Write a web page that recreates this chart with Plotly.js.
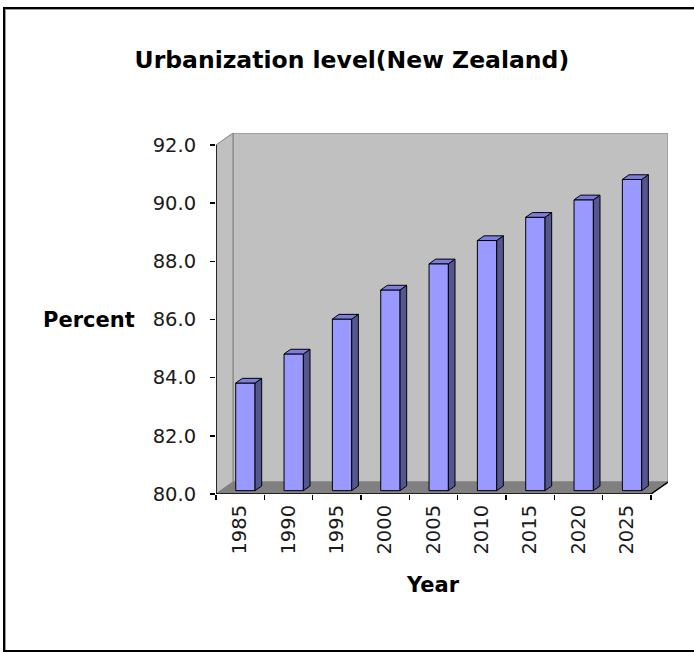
<!DOCTYPE html>
<html>
<head>
<meta charset="utf-8">
<script src="https://cdn.plot.ly/plotly-3.0.1.min.js"></script>
<style>
  html, body { margin: 0; padding: 0; background: #ffffff; overflow: hidden; }
  #chart { position: absolute; left: 0; top: 0; width: 694px; height: 652px; }
  #frame { position: absolute; left: 3px; top: 7px; width: 700px; height: 641px;
           border: 2px solid #000; box-shadow: inset 1px 1px 0 #9a9a9a; pointer-events: none; }
</style>
</head>
<body>
<div id="chart"></div>
<div id="frame"></div>
<script>
// ---- data ----
const years = ['1985', '1990', '1995', '2000', '2005', '2010', '2015', '2020', '2025'];
const urbanPercent = [83.7, 84.7, 85.9, 86.9, 87.8, 88.6, 89.4, 90.0, 90.7];
const yTickValues = [80, 82, 84, 86, 88, 90, 92];
const chartTitle = 'Urbanization level(New Zealand)';
const yTitle = 'Percent';
const xTitle = 'Year';

// ---- 3D look (styling / geometry) ----
const Y_MIN = 80, Y_MAX = 92;
const DX = 0.352;   // depth offset in category units
const DY = 0.4126;  // depth offset in value units
const F = 0.28;     // bar front depth fraction
const D = 0.39;     // bar depth fraction
const OFF = -0.092; // front face left edge relative to category centre
const W = 0.40;     // front face width
const n = years.length;

const baseFront = Y_MIN + F * DY;
const sideX = [], sideY = [], topX = [], topY = [];
urbanPercent.forEach((v, i) => {
  const l = i + OFF, r = i + OFF + W;
  const t = v + F * DY, b = baseFront;
  const dx = D * DX, dy = D * DY;
  sideX.push(r, r + dx, r + dx, r, r, null);
  sideY.push(b, b + dy, t + dy, t, b, null);
  topX.push(l, r, r + dx, l + dx, l, null);
  topY.push(t, t, t + dy, t + dy, t, null);
});

const traces = [
  {
    type: 'bar', x: years, y: urbanPercent.map(v => v - Y_MIN),
    base: urbanPercent.map(() => baseFront),
    offset: OFF, width: W,
    marker: { color: '#9999ff', line: { color: '#000000', width: 1 } },
    hoverinfo: 'skip', showlegend: false
  },
  {
    type: 'scatter', mode: 'lines', x: sideX, y: sideY, xaxis: 'x2', yaxis: 'y',
    fill: 'toself', fillcolor: '#55558f', line: { color: '#000000', width: 1 },
    hoverinfo: 'skip', showlegend: false
  },
  {
    type: 'scatter', mode: 'lines', x: topX, y: topY, xaxis: 'x2', yaxis: 'y',
    fill: 'toself', fillcolor: '#7d7de0', line: { color: '#000000', width: 1 },
    hoverinfo: 'skip', showlegend: false
  }
];

const xr = [-0.5, n - 0.5 + DX];
const shapes = [
  // back wall
  { type: 'rect', xref: 'x2', yref: 'y', layer: 'below',
    x0: -0.5 + DX, x1: n - 0.5 + DX, y0: Y_MIN + DY, y1: Y_MAX + DY,
    fillcolor: '#c0c0c0', line: { color: '#808080', width: 1 } },
  // left wall
  { type: 'path', xref: 'x2', yref: 'y', layer: 'below',
    path: `M ${-0.5},${Y_MIN} L ${-0.5 + DX},${Y_MIN + DY} L ${-0.5 + DX},${Y_MAX + DY} L ${-0.5},${Y_MAX} Z`,
    fillcolor: '#c0c0c0', line: { color: '#808080', width: 1 } },
  // floor
  { type: 'path', xref: 'x2', yref: 'y', layer: 'below',
    path: `M ${-0.5},${Y_MIN} L ${n - 0.5},${Y_MIN} L ${n - 0.5 + DX},${Y_MIN + DY} L ${-0.5 + DX},${Y_MIN + DY} Z`,
    fillcolor: '#808080', line: { color: '#808080', width: 1 } },
  // axis lines
  { type: 'line', xref: 'x2', yref: 'y', layer: 'above',
    x0: -0.5, x1: -0.5, y0: Y_MIN, y1: Y_MAX, line: { color: '#000000', width: 1.5 } },
  { type: 'line', xref: 'x2', yref: 'y', layer: 'above',
    x0: -0.5, x1: n - 0.5, y0: Y_MIN, y1: Y_MIN, line: { color: '#000000', width: 1.5 } },
  { type: 'line', xref: 'x2', yref: 'y', layer: 'above',
    x0: n - 0.5, x1: n - 0.5 + DX, y0: Y_MIN, y1: Y_MIN + DY, line: { color: '#000000', width: 1.5 } }
];

const layout = {
  width: 694, height: 652,
  margin: { l: 216, r: 26, t: 133, b: 158 },
  paper_bgcolor: 'rgba(0,0,0,0)', plot_bgcolor: 'rgba(0,0,0,0)',
  font: { family: 'DejaVu Sans, Arial, sans-serif', color: '#000000' },
  title: {
    text: chartTitle, x: 0.507, xanchor: 'center', xref: 'container',
    y: 0.909, yanchor: 'middle', yref: 'container',
    font: { family: 'DejaVu Sans, Arial, sans-serif', size: 23.5, weight: 'bold', color: '#000000' }
  },
  xaxis: {
    type: 'category', categoryorder: 'array', categoryarray: years,
    range: xr, fixedrange: true, showgrid: false, zeroline: false, showline: false,
    tickson: 'boundaries', ticks: 'outside', ticklen: 5, tickwidth: 1.5, tickcolor: '#000000',
    tickangle: -90, tickfont: { size: 19.5, color: '#1a1a1a' }, ticklabelstandoff: 6
  },
  xaxis2: {
    type: 'linear', overlaying: 'x', anchor: 'y', range: xr, visible: false, fixedrange: true
  },
  yaxis: {
    range: [Y_MIN, Y_MAX + DY], fixedrange: true, showgrid: false, zeroline: false, showline: false,
    tickmode: 'array', tickvals: yTickValues, ticktext: yTickValues.map(v => v.toFixed(1)),
    ticks: 'outside', ticklen: 5, tickwidth: 1.5, tickcolor: '#000000',
    tickfont: { size: 19.5, color: '#1a1a1a' }, ticklabelstandoff: 10
  },
  annotations: [
    { text: yTitle, xref: 'paper', yref: 'y', x: -0.175, y: 86, xanchor: 'right', yanchor: 'middle',
      showarrow: false, font: { size: 21, weight: 'bold', color: '#000000' } },
    { text: xTitle, xref: 'x2', yref: 'paper', x: (n - 1) / 2, y: -0.252, xanchor: 'center', yanchor: 'middle',
      showarrow: false, font: { size: 21, weight: 'bold', color: '#000000' } }
  ],
  shapes: shapes,
  bargap: 0, showlegend: false
};

Plotly.newPlot('chart', traces, layout, { staticPlot: true, displayModeBar: false });
</script>
</body>
</html>
